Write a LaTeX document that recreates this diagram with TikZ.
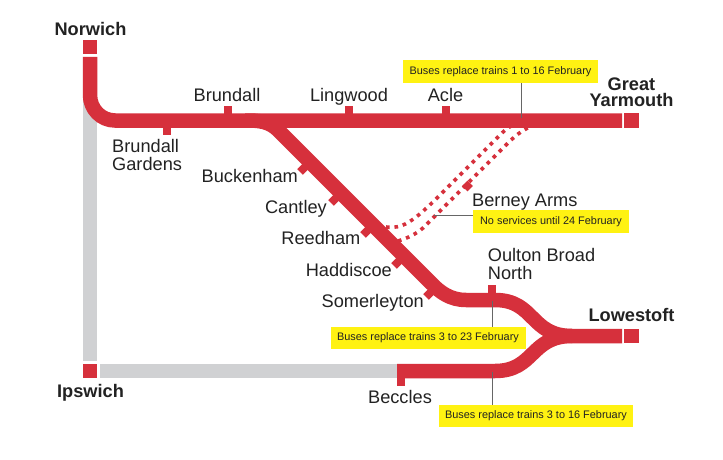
\documentclass[tikz,border=0pt]{standalone}
\usepackage{fontspec}
\setmainfont{Liberation Sans}
\definecolor{rail}{HTML}{D6303C}
\definecolor{closed}{HTML}{D0D1D3}
\definecolor{notice}{HTML}{FFF212}
\definecolor{ink}{HTML}{222222}
\begin{document}
\begin{tikzpicture}[x=1pt,y=-1pt,
  track/.style={draw=rail,line width=14.5pt},
  closedtrack/.style={draw=closed,line width=14.5pt},
  tick/.style={draw=rail,line width=8pt},
  suspended/.style={draw=rail,line width=3.6pt,dash pattern=on 3.6pt off 4.9pt},
  leader/.style={draw=black!60,line width=0.7pt},
  notebox/.style={fill=notice,inner sep=0pt,text=ink,font=\fontsize{10.9}{12}\selectfont,minimum height=22.5pt,align=center},
  stn/.style={inner sep=0pt,text=ink,font=\fontsize{18.2}{17.4}\selectfont},
  city/.style={inner sep=0pt,text=ink,font=\fontsize{18.2}{16.4}\selectfont\bfseries}]
\useasboundingbox (0,0) rectangle (723,460);
\fill[white] (0,0) rectangle (723,460);
% coordinates
\coordinate (nwTop) at (90,57);
\coordinate (yarEnd) at (622,120.5);
\coordinate (lowEnd) at (622,336);
\coordinate (becEnd) at (397,371);
\coordinate (busA) at (521,118);
\coordinate (busB) at (492.7,301);
\coordinate (busC) at (492.7,372);
\coordinate (noSvc) at (434,215.5);
% closed lines
\draw[closedtrack] (90,92) -- (90,360.5);
\draw[closedtrack] (100,371) -- (becEnd);
% dotted
\draw[suspended] (386,227) .. controls (402,229) and (412,223) .. (440,195) -- (497,138) .. controls (503,132) and (508,126) .. (520,122);
\draw[suspended] (398,241) .. controls (408,238) and (416,234) .. (423,228) -- (508,143) .. controls (516,135) and (526,126) .. (545,122);
\node[fill=rail,minimum size=7.5pt,inner sep=0pt,rotate=45] (berneyMark) at (467.5,186) {};
% main lines
\draw[track] (nwTop) -- (90,95) .. controls (90,109) and (101,120.5) .. (115,120.5) -- (yarEnd);
\draw[track] (245,120.5) .. controls (259,120.5) and (269,121) .. (279,131) -- (432,284) .. controls (440,292) and (450,300) .. (466,300) -- (495,300) .. controls (535,300) and (530,336) .. (572,336) -- (lowEnd);
\draw[track] (becEnd) -- (495,371) .. controls (535,371) and (530,336) .. (572,336);
% stubs
\node[fill=rail,minimum width=14.5pt,minimum height=14.5pt,inner sep=0pt] (nwStub) at (90,47) {};
\node[fill=rail,minimum width=15pt,minimum height=14.5pt,inner sep=0pt] (yarStub) at (631.5,120.5) {};
\node[fill=rail,minimum width=15pt,minimum height=14.5pt,inner sep=0pt] (lowStub) at (631.5,336) {};
\node[fill=rail,minimum width=14.5pt,minimum height=14.5pt,inner sep=0pt] (ipsStub) at (90,371) {};
% station ticks
\draw[tick] (227.5,120) -- (227.5,106);
\draw[tick] (349,120) -- (349,106);
\draw[tick] (445.5,120) -- (445.5,106);
\draw[tick] (167,121) -- (167,135);
\draw[tick] (492,300) -- (492,285);
\draw[tick] (401,371) -- (401,386);
\draw[tick] (310,162) -- (300,172);
\draw[tick] (341,193) -- (331,203);
\draw[tick] (373,225) -- (363,235);
\draw[tick] (404,256) -- (394,266);
\draw[tick] (436,287) -- (426,297);
% notices
\node[notebox,minimum width=195pt] (noteA) at (500.5,71.5) {Buses replace trains 1 to 16 February};
\node[notebox,minimum width=156pt] (noteB) at (551,221.5) {No services until 24 February};
\node[notebox,minimum width=195pt] (noteC) at (428,338) {Buses replace trains 3 to 23 February};
\node[notebox,minimum width=194pt] (noteD) at (536,416) {Buses replace trains 3 to 16 February};
\draw[leader] (noteA.south -| busA) -- (busA);
\draw[leader] (noteB.west |- noSvc) -- (noSvc);
\draw[leader] (noteC.north -| busB) -- (busB);
\draw[leader] (noteD.north -| busC) -- (busC);
% labels
\node[city,anchor=base] (norwich) at (90.5,36) {Norwich};
\node[city,anchor=base] (ipswich) at (90.5,397) {Ipswich};
\node[city,anchor=base] (lowestoft) at (631.5,321.7) {Lowestoft};
\node[city,anchor=north,align=center] (yarmouth) at (631.5,77.5) {Great\\Yarmouth};
\node[stn,anchor=base] (brundall) at (227,102) {Brundall};
\node[stn,anchor=base] (lingwood) at (349,102) {Lingwood};
\node[stn,anchor=base] (acle) at (445.5,102) {Acle};
\node[stn,anchor=north west,align=left] (gardens) at (112,139.5) {Brundall\\Gardens};
\node[stn,anchor=base east] (buckenham) at (298,182) {Buckenham};
\node[stn,anchor=base east] (cantley) at (327,213) {Cantley};
\node[stn,anchor=base east] (reedham) at (360.5,244) {Reedham};
\node[stn,anchor=base east] (haddiscoe) at (392,276.5) {Haddiscoe};
\node[stn,anchor=base east] (somerleyton) at (424,307.5) {Somerleyton};
\node[stn,anchor=base west] (berney) at (472,206.5) {Berney Arms};
\node[stn,anchor=north west,align=left] (oulton) at (487.7,248.5) {Oulton Broad\\North};
\node[stn,anchor=base] (beccles) at (400,403) {Beccles};
\end{tikzpicture}
\end{document}
